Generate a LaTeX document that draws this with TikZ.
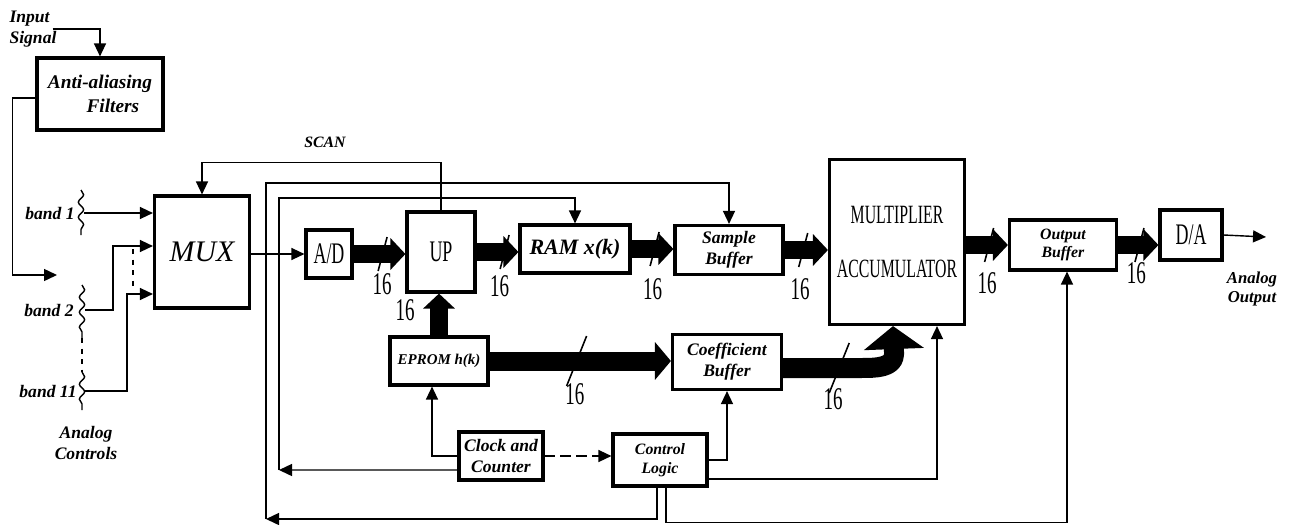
\documentclass[tikz,border=0pt]{standalone}
\usepackage{fontspec}
\setmainfont{Liberation Serif}
\newfontfamily\condfont[FakeStretch=0.6]{Liberation Serif}
\usetikzlibrary{positioning,arrows.meta,calc,decorations.pathmorphing}

\begin{document}
\begin{tikzpicture}[x=0.02cm, y=-0.02cm, >={Triangle[length=0.26cm,width=0.24cm]},
  box/.style={draw, line width=1.8pt, font=\bfseries\itshape, align=center, inner sep=1pt},
  sig/.style={line width=0.8pt},
  bus/.style={line width=0.36cm, -{Triangle[length=0.3cm,width=0.62cm]}},
  bigbus/.style={line width=0.38cm, -{Triangle[length=0.32cm,width=0.74cm]}},
  hugebus/.style={line width=0.4cm, line join=round, -{Triangle[length=0.46cm,width=1.18cm]}},
  num/.style={font=\condfont\fontsize{18}{18}\selectfont},
  lbl/.style={font=\bfseries\itshape, align=center},
  wavy/.style={sig, decorate, decoration={snake, amplitude=1.5pt, segment length=0.3cm}},
  slash/.pic={\draw[line width=0.9pt,-] (-0.09cm,-0.34cm) -- (0.09cm,0.34cm);},
  longslash/.pic={\draw[line width=0.9pt,-] (-0.2cm,-0.5cm) -- (0.2cm,0.5cm);}]
  \useasboundingbox (0,0) rectangle (1290,524);

  % blocks
  \node[box, minimum width=2.52cm, minimum height=1.44cm, align=left, font=\bfseries\itshape\fontsize{11}{14}\selectfont] (filt) at (100,94) {Anti-aliasing\\\hspace{2em}Filters};
  \node[box, minimum width=1.9cm, minimum height=2.24cm, font=\itshape\fontsize{17}{17}\selectfont] (mux) at (202,252) {MUX};
  \node[box, minimum width=0.92cm, minimum height=0.96cm, font=\condfont\fontsize{17}{17}\selectfont] (ad) at (329,254) {A/D};
  \node[box, minimum width=1.36cm, minimum height=1.6cm, font=\condfont\fontsize{17}{17}\selectfont] (up) at (441,252) {UP};
  \node[box, minimum width=2.2cm, minimum height=0.96cm, font=\bfseries\itshape\fontsize{12.5}{13}\selectfont] (ram) at (575,249) {RAM x(k)};
  \node[box, minimum width=2.16cm, minimum height=0.98cm] (sbuf) at (729,250) {Sample\\Buffer};
  \node[box, minimum width=2.7cm, minimum height=3.3cm, font=\condfont\fontsize{15}{15}\selectfont] (mac) at (897,242) {MULTIPLIER\\[0.55cm]ACCUMULATOR};
  \node[box, minimum width=2.14cm, minimum height=1.0cm, font=\bfseries\itshape\fontsize{9}{10}\selectfont] (obuf) at (1063,245) {Output\\Buffer};
  \node[box, minimum width=1.24cm, minimum height=1.0cm, font=\condfont\fontsize{17}{17}\selectfont] (da) at (1191,235) {D/A};
  \node[box, minimum width=1.96cm, minimum height=0.96cm, font=\bfseries\itshape\fontsize{8.5}{10}\selectfont] (eprom) at (439,361) {EPROM h(k)};
  \node[box, minimum width=2.18cm, minimum height=1.1cm] (cbuf) at (727,362) {Coefficient\\Buffer};
  \node[box, minimum width=1.68cm, minimum height=0.96cm] (clk) at (501,456) {Clock and\\Counter};
  \node[box, minimum width=1.88cm, minimum height=1.04cm, font=\bfseries\itshape\fontsize{9}{11}\selectfont] (ctl) at (660,460) {Control\\Logic};

  % labels
  \node[lbl, align=left] (insig) at (33,29) {Input\\Signal};
  \node[lbl, font=\bfseries\itshape\fontsize{9}{10}\selectfont] (scan) at (325,142) {SCAN};
  \node[lbl] (band1) at (50,213) {band 1};
  \node[lbl] (band2) at (49,310) {band 2};
  \node[lbl] (band11) at (48,391) {band 11};
  \node[lbl] (actl) at (86,443) {Analog\\Controls};
  \node[lbl, font=\bfseries\itshape\fontsize{9.5}{11}\selectfont] (aoutl) at (1252,289) {Analog\\Output};

  % band inputs
  \draw[wavy] (81,190) -- (81,235);
  \draw[wavy] (82,285) -- (82,338);
  \draw[wavy] (82,372) -- (82,410);
  \draw[sig, dashed] (82,338) -- (82,372);
  \coordinate (b1) at (84,213);
  \coordinate (b2) at (85,310);
  \coordinate (b11) at (85,391);
  \coordinate (fin) at (57,275);
  \coordinate (lo) at (266,519);
  \coordinate (li) at (279,470);
  \coordinate (aout) at (1266,237);

  % control lines
  \draw[sig,->] ([xshift=-0.2cm]insig.east) -| (filt.north);
  \draw[sig,->] ([yshift=-0.08cm]filt.west) -- ++(-23,0) |- (fin);
  \draw[sig,->] (b1) -- (b1 -| mux.west);
  \draw[sig,->] (b2) -- ++(28,0) |- ([yshift=0.12cm]mux.west);
  \draw[sig,->] (b11) -- ++(42,0) |- ([yshift=-0.84cm]mux.west);
  \draw[sig, dashed] (133,249) -- (133,291);
  \draw[sig,->] (mux.east |- ad.west) -- (ad.west);
  \draw[sig,->] (up.north) -- ++(0,-48) -| (mux.north);
  \draw[sig,->] ([xshift=-0.06cm]ctl.south) |- (lo);
  \draw[sig,->] (lo) -- ++(0,-336) -| (sbuf.north);
  \draw[sig,->] ([yshift=-0.28cm]clk.west) -- (li);
  \draw[sig,->] (li) -- ++(0,-272) -| (ram.north);
  \draw[sig,->] (clk.west) -| ([xshift=-0.14cm]eprom.south);
  \draw[sig,->,dash pattern=on 6pt off 3pt] (clk.east) -- (clk.east -| ctl.west);
  \draw[sig,->] (ctl.east) -| (cbuf.south);
  \draw[sig,->] ([yshift=-0.38cm]ctl.east) -| ([xshift=0.8cm]mac.south);
  \draw[sig,->] ([xshift=0.12cm]ctl.south) -- ++(0,35) -| ([xshift=0.08cm]obuf.south);
  \draw[sig,->] (da.east) -- (aout);

  % 16-bit buses
  \draw[bus] (ad.east) -- pic[pos=0.56]{slash} node[num, pos=0.55, yshift=-0.6cm]{16} (ad.east -| up.west);
  \draw[bus] (up.east) -- pic[pos=0.67]{slash} node[num, pos=0.55, yshift=-0.68cm]{16} (up.east -| ram.west);
  \draw[bus] (ram.east) -- pic[pos=0.55]{slash} node[num, pos=0.5, yshift=-0.8cm]{16} (ram.east -| sbuf.west);
  \draw[bus] (sbuf.east) -- pic[pos=0.43]{slash} node[num, pos=0.36, yshift=-0.78cm]{16} (sbuf.east -| mac.west);
  \draw[bus] (mac.east |- obuf.west) -- pic[pos=0.55]{slash} node[num, pos=0.5, yshift=-0.76cm]{16} (obuf.west);
  \draw[bus] (obuf.east) -- pic[pos=0.53]{slash} node[num, pos=0.45, yshift=-0.56cm]{16} (obuf.east -| da.west);
  \draw[bus] (eprom.north) -- node[num, pos=0.6, xshift=-0.68cm]{16} (eprom.north |- up.south);
  \draw[bigbus] (eprom.east) -- pic[pos=0.48]{longslash} node[num, pos=0.47, yshift=-0.66cm]{16} (eprom.east -| cbuf.west);
  \draw[hugebus] ([yshift=-0.12cm]cbuf.east) -- pic[pos=0.72]{longslash} node[num, pos=0.64, yshift=-0.62cm]{16} ++(78,0) to[out=0,in=-90] ++(33,-14) -- ([xshift=-0.08cm]mac.south);
\end{tikzpicture}
\end{document}
